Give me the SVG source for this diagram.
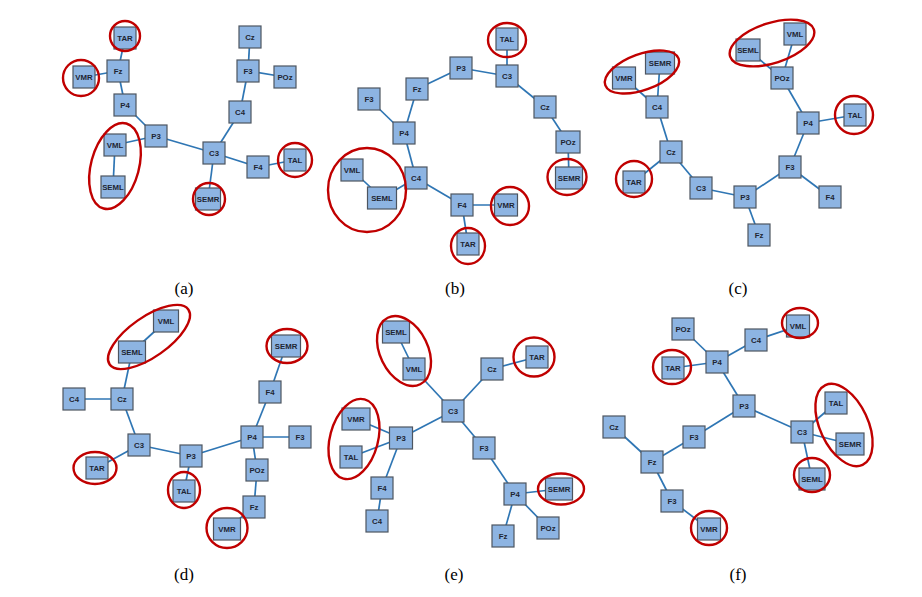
<svg xmlns="http://www.w3.org/2000/svg" width="922" height="597" viewBox="0 0 922 597">
<style>
.n rect{fill:#8db4e2;stroke:#4d5560;stroke-width:1.2}
.n text{font-family:"Liberation Sans",Arial,sans-serif;font-size:7.8px;font-weight:bold;fill:#1e2633;text-anchor:middle;dominant-baseline:central}
.e line{stroke:#2f76b4;stroke-width:1.7}
.r{fill:none;stroke:#c00000;stroke-width:2.4}
.lbl{font-family:"Liberation Serif",serif;font-size:17px;fill:#000;text-anchor:middle}
</style>
<rect width="922" height="597" fill="#fff"/>

<!-- Panel a -->
<g class="e" id="a-edges">
<line x1="125" y1="38" x2="118" y2="71"/><line x1="84" y1="77" x2="118" y2="71"/><line x1="118" y1="71" x2="125" y2="105"/>
<line x1="125" y1="105" x2="156" y2="136"/><line x1="156" y1="136" x2="115" y2="145"/><line x1="115" y1="145" x2="113" y2="187"/>
<line x1="156" y1="136" x2="214" y2="153"/><line x1="214" y1="153" x2="208" y2="199"/><line x1="214" y1="153" x2="258" y2="167"/>
<line x1="258" y1="167" x2="295" y2="160"/><line x1="214" y1="153" x2="240" y2="112"/><line x1="240" y1="112" x2="248" y2="71"/>
<line x1="248" y1="71" x2="250" y2="37"/><line x1="248" y1="71" x2="285" y2="77"/>
</g>
<g id="a-TAR" class="n"><rect x="114" y="27" width="22" height="22"/><text x="125" y="38">TAR</text></g>
<g id="a-Fz" class="n"><rect x="107" y="60" width="22" height="22"/><text x="118" y="71">Fz</text></g>
<g id="a-VMR" class="n"><rect x="73" y="66" width="22" height="22"/><text x="84" y="77">VMR</text></g>
<g id="a-P4" class="n"><rect x="114" y="94" width="22" height="22"/><text x="125" y="105">P4</text></g>
<g id="a-P3" class="n"><rect x="145" y="125" width="22" height="22"/><text x="156" y="136">P3</text></g>
<g id="a-VML" class="n"><rect x="104" y="134" width="22" height="22"/><text x="115" y="145">VML</text></g>
<g id="a-SEML" class="n"><rect x="101" y="176" width="24" height="22"/><text x="113" y="187">SEML</text></g>
<g id="a-C3" class="n"><rect x="203" y="142" width="22" height="22"/><text x="214" y="153">C3</text></g>
<g id="a-SEMR" class="n"><rect x="195.5" y="188" width="25" height="22"/><text x="208" y="199">SEMR</text></g>
<g id="a-F4" class="n"><rect x="247" y="156" width="22" height="22"/><text x="258" y="167">F4</text></g>
<g id="a-TAL" class="n"><rect x="284" y="149" width="22" height="22"/><text x="295" y="160">TAL</text></g>
<g id="a-C4" class="n"><rect x="229" y="101" width="22" height="22"/><text x="240" y="112">C4</text></g>
<g id="a-F3" class="n"><rect x="237" y="60" width="22" height="22"/><text x="248" y="71">F3</text></g>
<g id="a-Cz" class="n"><rect x="239" y="26" width="22" height="22"/><text x="250" y="37">Cz</text></g>
<g id="a-POz" class="n"><rect x="274" y="66" width="22" height="22"/><text x="285" y="77">POz</text></g>
<g id="a-rings">
<circle class="r" cx="125" cy="36" r="15"/><circle class="r" cx="81" cy="78" r="18"/>
<ellipse class="r" cx="0" cy="0" rx="24" ry="44" transform="translate(115 166) rotate(15)"/>
<circle class="r" cx="209" cy="199" r="16"/><circle class="r" cx="295" cy="160" r="17"/>
</g>
<text class="lbl" x="184" y="294">(a)</text>

<!-- Panel b -->
<g class="e" id="b-edges">
<line x1="507" y1="39" x2="507" y2="76"/><line x1="507" y1="76" x2="461" y2="68"/><line x1="461" y1="68" x2="417" y2="89"/>
<line x1="417" y1="89" x2="404" y2="133"/><line x1="369" y1="99" x2="404" y2="133"/><line x1="404" y1="133" x2="416" y2="178"/>
<line x1="416" y1="178" x2="382" y2="198"/><line x1="382" y1="198" x2="352" y2="170"/><line x1="416" y1="178" x2="462" y2="205"/>
<line x1="462" y1="205" x2="506" y2="205"/><line x1="462" y1="205" x2="468" y2="244"/><line x1="507" y1="76" x2="545" y2="107"/>
<line x1="545" y1="107" x2="568" y2="142"/><line x1="568" y1="142" x2="569" y2="178"/>
</g>
<g id="b-TAL" class="n"><rect x="496" y="28" width="22" height="22"/><text x="507" y="39">TAL</text></g>
<g id="b-C3" class="n"><rect x="496" y="65" width="22" height="22"/><text x="507" y="76">C3</text></g>
<g id="b-P3" class="n"><rect x="450" y="57" width="22" height="22"/><text x="461" y="68">P3</text></g>
<g id="b-Fz" class="n"><rect x="406" y="78" width="22" height="22"/><text x="417" y="89">Fz</text></g>
<g id="b-F3" class="n"><rect x="358" y="88" width="22" height="22"/><text x="369" y="99">F3</text></g>
<g id="b-P4" class="n"><rect x="393" y="122" width="22" height="22"/><text x="404" y="133">P4</text></g>
<g id="b-C4" class="n"><rect x="405" y="167" width="22" height="22"/><text x="416" y="178">C4</text></g>
<g id="b-VML" class="n"><rect x="341" y="159" width="22" height="22"/><text x="352" y="170">VML</text></g>
<g id="b-SEML" class="n"><rect x="367.5" y="187" width="29" height="22"/><text x="382" y="198">SEML</text></g>
<g id="b-Cz" class="n"><rect x="534" y="96" width="22" height="22"/><text x="545" y="107">Cz</text></g>
<g id="b-POz" class="n"><rect x="556" y="131" width="24" height="22"/><text x="568" y="142">POz</text></g>
<g id="b-SEMR" class="n"><rect x="555.5" y="167" width="27" height="22"/><text x="569" y="178">SEMR</text></g>
<g id="b-F4" class="n"><rect x="451" y="194" width="22" height="22"/><text x="462" y="205">F4</text></g>
<g id="b-VMR" class="n"><rect x="494.5" y="194" width="23" height="22"/><text x="506" y="205">VMR</text></g>
<g id="b-TAR" class="n"><rect x="457" y="233" width="22" height="22"/><text x="468" y="244">TAR</text></g>
<g id="b-rings">
<ellipse class="r" cx="507" cy="40" rx="19" ry="17"/><ellipse class="r" cx="367" cy="190" rx="39" ry="42"/>
<ellipse class="r" cx="567" cy="177" rx="19.5" ry="18"/><ellipse class="r" cx="510" cy="206" rx="19" ry="19"/>
<ellipse class="r" cx="468" cy="246" rx="17" ry="18"/>
</g>
<text class="lbl" x="455" y="294">(b)</text>

<!-- Panel c -->
<g class="e" id="c-edges">
<line x1="624" y1="78" x2="657" y2="107"/><line x1="660" y1="63" x2="657" y2="107"/><line x1="657" y1="107" x2="671" y2="152"/>
<line x1="671" y1="152" x2="634" y2="182"/><line x1="671" y1="152" x2="701" y2="188"/><line x1="701" y1="188" x2="745" y2="197"/>
<line x1="745" y1="197" x2="759" y2="235"/><line x1="745" y1="197" x2="790" y2="167"/><line x1="790" y1="167" x2="830" y2="197"/>
<line x1="790" y1="167" x2="808" y2="123"/><line x1="808" y1="123" x2="855" y2="115"/><line x1="808" y1="123" x2="782" y2="78"/>
<line x1="782" y1="78" x2="748" y2="50"/><line x1="782" y1="78" x2="795" y2="34"/>
</g>
<g id="c-VMR" class="n"><rect x="612.5" y="67" width="23" height="22"/><text x="624" y="78">VMR</text></g>
<g id="c-SEMR" class="n"><rect x="645.5" y="52" width="29" height="22"/><text x="660" y="63">SEMR</text></g>
<g id="c-C4" class="n"><rect x="646" y="96" width="22" height="22"/><text x="657" y="107">C4</text></g>
<g id="c-Cz" class="n"><rect x="660" y="141" width="22" height="22"/><text x="671" y="152">Cz</text></g>
<g id="c-TAR" class="n"><rect x="623" y="171" width="22" height="22"/><text x="634" y="182">TAR</text></g>
<g id="c-C3" class="n"><rect x="690" y="177" width="22" height="22"/><text x="701" y="188">C3</text></g>
<g id="c-P3" class="n"><rect x="734" y="186" width="22" height="22"/><text x="745" y="197">P3</text></g>
<g id="c-Fz" class="n"><rect x="748" y="224" width="22" height="22"/><text x="759" y="235">Fz</text></g>
<g id="c-F3" class="n"><rect x="779" y="156" width="22" height="22"/><text x="790" y="167">F3</text></g>
<g id="c-F4" class="n"><rect x="819" y="186" width="22" height="22"/><text x="830" y="197">F4</text></g>
<g id="c-P4" class="n"><rect x="797" y="112" width="22" height="22"/><text x="808" y="123">P4</text></g>
<g id="c-TAL" class="n"><rect x="844" y="104" width="22" height="22"/><text x="855" y="115">TAL</text></g>
<g id="c-POz" class="n"><rect x="771" y="67" width="22" height="22"/><text x="782" y="78">POz</text></g>
<g id="c-SEML" class="n"><rect x="736" y="39" width="24" height="22"/><text x="748" y="50">SEML</text></g>
<g id="c-VML" class="n"><rect x="784" y="23" width="22" height="22"/><text x="795" y="34">VML</text></g>
<g id="c-rings">
<ellipse class="r" cx="0" cy="0" rx="39" ry="18" transform="translate(642 72) rotate(-20)"/>
<ellipse class="r" cx="0" cy="0" rx="44" ry="20" transform="translate(772 43) rotate(-18)"/>
<circle class="r" cx="854" cy="115" r="19"/><circle class="r" cx="634" cy="179" r="18"/>
</g>
<text class="lbl" x="738" y="294">(c)</text>

<!-- Panel d -->
<g class="e" id="d-edges">
<line x1="166" y1="321" x2="132" y2="352"/><line x1="132" y1="352" x2="122" y2="399"/><line x1="74" y1="399" x2="122" y2="399"/>
<line x1="122" y1="399" x2="139" y2="445"/><line x1="139" y1="445" x2="97" y2="468"/><line x1="139" y1="445" x2="191" y2="456"/>
<line x1="191" y1="456" x2="184" y2="491"/><line x1="191" y1="456" x2="252" y2="437"/><line x1="252" y1="437" x2="300" y2="437"/>
<line x1="252" y1="437" x2="270" y2="392"/><line x1="270" y1="392" x2="286" y2="346"/><line x1="252" y1="437" x2="257" y2="470"/>
<line x1="257" y1="470" x2="254" y2="507"/><line x1="254" y1="507" x2="227" y2="529"/>
</g>
<g id="d-VML" class="n"><rect x="153.5" y="310" width="25" height="22"/><text x="166" y="321">VML</text></g>
<g id="d-SEML" class="n"><rect x="118.5" y="341" width="27" height="22"/><text x="132" y="352">SEML</text></g>
<g id="d-C4" class="n"><rect x="63" y="388" width="22" height="22"/><text x="74" y="399">C4</text></g>
<g id="d-Cz" class="n"><rect x="111" y="388" width="22" height="22"/><text x="122" y="399">Cz</text></g>
<g id="d-C3" class="n"><rect x="128" y="434" width="22" height="22"/><text x="139" y="445">C3</text></g>
<g id="d-TAR" class="n"><rect x="86" y="457" width="22" height="22"/><text x="97" y="468">TAR</text></g>
<g id="d-P3" class="n"><rect x="180" y="445" width="22" height="22"/><text x="191" y="456">P3</text></g>
<g id="d-TAL" class="n"><rect x="173" y="480" width="22" height="22"/><text x="184" y="491">TAL</text></g>
<g id="d-P4" class="n"><rect x="241" y="426" width="22" height="22"/><text x="252" y="437">P4</text></g>
<g id="d-F3" class="n"><rect x="289" y="426" width="22" height="22"/><text x="300" y="437">F3</text></g>
<g id="d-F4" class="n"><rect x="259" y="381" width="22" height="22"/><text x="270" y="392">F4</text></g>
<g id="d-SEMR" class="n"><rect x="271.5" y="335" width="29" height="22"/><text x="286" y="346">SEMR</text></g>
<g id="d-POz" class="n"><rect x="246" y="459" width="22" height="22"/><text x="257" y="470">POz</text></g>
<g id="d-Fz" class="n"><rect x="243" y="496" width="22" height="22"/><text x="254" y="507">Fz</text></g>
<g id="d-VMR" class="n"><rect x="213.5" y="518" width="27" height="22"/><text x="227" y="529">VMR</text></g>
<g id="d-rings">
<ellipse class="r" cx="0" cy="0" rx="48" ry="20" transform="translate(149 337) rotate(-35)"/>
<ellipse class="r" cx="287" cy="346" rx="20.5" ry="17"/><ellipse class="r" cx="95" cy="468" rx="21.5" ry="16"/>
<ellipse class="r" cx="184" cy="490" rx="16" ry="18"/><ellipse class="r" cx="227" cy="528" rx="20.5" ry="20"/>
</g>
<text class="lbl" x="184" y="580">(d)</text>

<!-- Panel e -->
<g class="e" id="e-edges">
<line x1="396" y1="332" x2="414" y2="369"/><line x1="414" y1="369" x2="453" y2="411"/><line x1="453" y1="411" x2="492" y2="369"/>
<line x1="492" y1="369" x2="537" y2="357"/><line x1="453" y1="411" x2="401" y2="438"/><line x1="401" y1="438" x2="356" y2="419"/>
<line x1="401" y1="438" x2="351" y2="457"/><line x1="401" y1="438" x2="382" y2="488"/><line x1="382" y1="488" x2="377" y2="521"/>
<line x1="453" y1="411" x2="484" y2="448"/><line x1="484" y1="448" x2="515" y2="494"/><line x1="515" y1="494" x2="559" y2="489"/>
<line x1="515" y1="494" x2="503" y2="536"/><line x1="515" y1="494" x2="548" y2="528"/>
</g>
<g id="e-SEML" class="n"><rect x="382.5" y="321" width="27" height="22"/><text x="396" y="332">SEML</text></g>
<g id="e-VML" class="n"><rect x="403" y="358" width="22" height="22"/><text x="414" y="369">VML</text></g>
<g id="e-Cz" class="n"><rect x="481" y="358" width="22" height="22"/><text x="492" y="369">Cz</text></g>
<g id="e-TAR" class="n"><rect x="526" y="346" width="22" height="22"/><text x="537" y="357">TAR</text></g>
<g id="e-C3" class="n"><rect x="442" y="400" width="22" height="22"/><text x="453" y="411">C3</text></g>
<g id="e-VMR" class="n"><rect x="342" y="408" width="28" height="22"/><text x="356" y="419">VMR</text></g>
<g id="e-P3" class="n"><rect x="389.5" y="427" width="23" height="22"/><text x="401" y="438">P3</text></g>
<g id="e-TAL" class="n"><rect x="340" y="446" width="22" height="22"/><text x="351" y="457">TAL</text></g>
<g id="e-F4" class="n"><rect x="371" y="477" width="22" height="22"/><text x="382" y="488">F4</text></g>
<g id="e-C4" class="n"><rect x="366" y="510" width="22" height="22"/><text x="377" y="521">C4</text></g>
<g id="e-F3" class="n"><rect x="473" y="437" width="22" height="22"/><text x="484" y="448">F3</text></g>
<g id="e-P4" class="n"><rect x="504" y="483" width="22" height="22"/><text x="515" y="494">P4</text></g>
<g id="e-SEMR" class="n"><rect x="545.5" y="478" width="27" height="22"/><text x="559" y="489">SEMR</text></g>
<g id="e-Fz" class="n"><rect x="492" y="525" width="22" height="22"/><text x="503" y="536">Fz</text></g>
<g id="e-POz" class="n"><rect x="537" y="517" width="22" height="22"/><text x="548" y="528">POz</text></g>
<g id="e-rings">
<ellipse class="r" cx="0" cy="0" rx="24" ry="37" transform="translate(404 351) rotate(-26)"/>
<ellipse class="r" cx="0" cy="0" rx="24" ry="41" transform="translate(354 439) rotate(15)"/>
<ellipse class="r" cx="534" cy="357" rx="20.5" ry="19.5"/><ellipse class="r" cx="561" cy="489" rx="23" ry="15.5"/>
</g>
<text class="lbl" x="454" y="580">(e)</text>

<!-- Panel f -->
<g class="e" id="f-edges">
<line x1="683" y1="329" x2="717" y2="362"/><line x1="673" y1="368" x2="717" y2="362"/><line x1="717" y1="362" x2="756" y2="340"/>
<line x1="756" y1="340" x2="798" y2="326"/><line x1="717" y1="362" x2="744" y2="406"/><line x1="744" y1="406" x2="802" y2="432"/>
<line x1="802" y1="432" x2="836" y2="403"/><line x1="802" y1="432" x2="850" y2="444"/><line x1="802" y1="432" x2="812" y2="479"/>
<line x1="744" y1="406" x2="694" y2="437"/><line x1="694" y1="437" x2="652" y2="462"/><line x1="652" y1="462" x2="614" y2="427"/>
<line x1="652" y1="462" x2="672" y2="501"/><line x1="672" y1="501" x2="709" y2="529"/>
</g>
<g id="f-POz" class="n"><rect x="672" y="318" width="22" height="22"/><text x="683" y="329">POz</text></g>
<g id="f-C4" class="n"><rect x="745" y="329" width="22" height="22"/><text x="756" y="340">C4</text></g>
<g id="f-VML" class="n"><rect x="786.5" y="315" width="23" height="22"/><text x="798" y="326">VML</text></g>
<g id="f-P4" class="n"><rect x="706" y="351" width="22" height="22"/><text x="717" y="362">P4</text></g>
<g id="f-TAR" class="n"><rect x="662" y="357" width="22" height="22"/><text x="673" y="368">TAR</text></g>
<g id="f-P3" class="n"><rect x="733" y="395" width="22" height="22"/><text x="744" y="406">P3</text></g>
<g id="f-TAL" class="n"><rect x="825" y="392" width="22" height="22"/><text x="836" y="403">TAL</text></g>
<g id="f-C3" class="n"><rect x="791" y="421" width="22" height="22"/><text x="802" y="432">C3</text></g>
<g id="f-SEMR" class="n"><rect x="836" y="433" width="28" height="22"/><text x="850" y="444">SEMR</text></g>
<g id="f-SEML" class="n"><rect x="799" y="468" width="26" height="22"/><text x="812" y="479">SEML</text></g>
<g id="f-Cz" class="n"><rect x="603" y="416" width="22" height="22"/><text x="614" y="427">Cz</text></g>
<g id="f-F3a" class="n"><rect x="683" y="426" width="22" height="22"/><text x="694" y="437">F3</text></g>
<g id="f-Fz" class="n"><rect x="641" y="451" width="22" height="22"/><text x="652" y="462">Fz</text></g>
<g id="f-F3b" class="n"><rect x="661" y="490" width="22" height="22"/><text x="672" y="501">F3</text></g>
<g id="f-VMR" class="n"><rect x="697.5" y="518" width="23" height="22"/><text x="709" y="529">VMR</text></g>
<g id="f-rings">
<ellipse class="r" cx="800" cy="323" rx="18" ry="15"/><ellipse class="r" cx="672" cy="367" rx="19" ry="17"/>
<ellipse class="r" cx="0" cy="0" rx="24" ry="44" transform="translate(844 425) rotate(-25)"/>
<ellipse class="r" cx="812" cy="475" rx="18" ry="17"/><ellipse class="r" cx="709" cy="528" rx="18" ry="17"/>
</g>
<text class="lbl" x="738" y="580">(f)</text>
</svg>
